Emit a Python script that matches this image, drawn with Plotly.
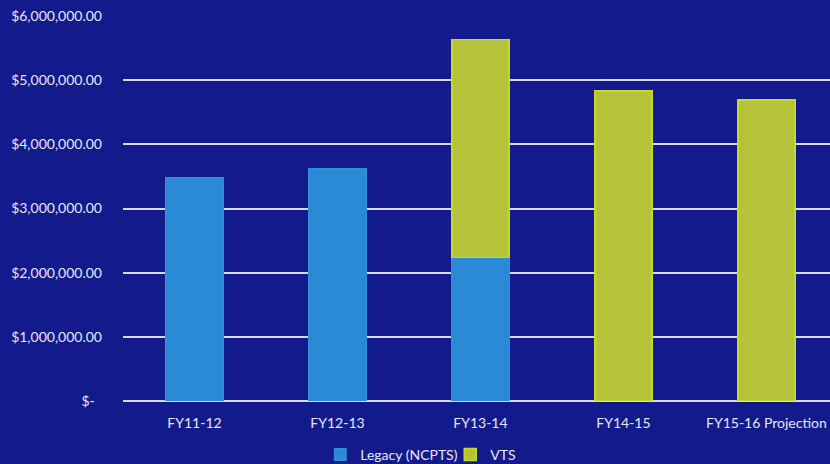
import plotly.graph_objects as go

categories = ["FY11-12", "FY12-13", "FY13-14", "FY14-15", "FY15-16 Projection"]
legacy = [3490000, 3620000, 2240000, None, None]
vts = [None, None, 3390000, 4830000, 4690000]
tick_vals = [0, 1000000, 2000000, 3000000, 4000000, 5000000, 6000000]
tick_text = ["$-\u00a0\u00a0", "$1,000,000.00", "$2,000,000.00", "$3,000,000.00",
             "$4,000,000.00", "$5,000,000.00", "$6,000,000.00"]

bg = "#131a8c"
txt = "#e6e8f0"
font = dict(family="Lato, Open Sans, sans-serif", size=14, color=txt)

fig = go.Figure()
fig.add_trace(go.Bar(x=categories, y=legacy, name="Legacy (NCPTS)",
                     marker=dict(color="#2b8ad6", line=dict(color="#2f92dc", width=1)),
                     width=0.4))
fig.add_trace(go.Bar(x=categories, y=vts, name="VTS",
                     marker=dict(color="#b5c33a", line=dict(color="#c8d62a", width=1.5)),
                     width=0.4))

fig.update_layout(
    barmode="stack",
    width=830, height=464,
    paper_bgcolor=bg, plot_bgcolor=bg,
    margin=dict(l=123, r=0, t=16, b=63, autoexpand=False),
    font=font,
    showlegend=True,
    legend=dict(orientation="h", x=0.279, xanchor="left", y=-0.14, yanchor="middle",
                font=dict(size=14, color=txt), bgcolor="rgba(0,0,0,0)",
                itemwidth=30, traceorder="normal",
                entrywidth=85, entrywidthmode="pixels"),
)
fig.update_xaxes(range=[-0.5, 4.445], showgrid=False, showline=False, zeroline=False,
                 ticks="", ticklabelstandoff=12, tickfont=dict(size=14, color=txt))
fig.update_yaxes(range=[0, 6000000], tickvals=tick_vals, ticktext=tick_text,
                 showgrid=True, gridcolor="#d8dbe6", gridwidth=1.5,
                 zeroline=True, zerolinecolor="#d8dbe6", zerolinewidth=1.5,
                 showline=False, ticks="", ticklabelstandoff=20,
                 tickfont=dict(size=14, color=txt))

fig.write_html("out.html")
